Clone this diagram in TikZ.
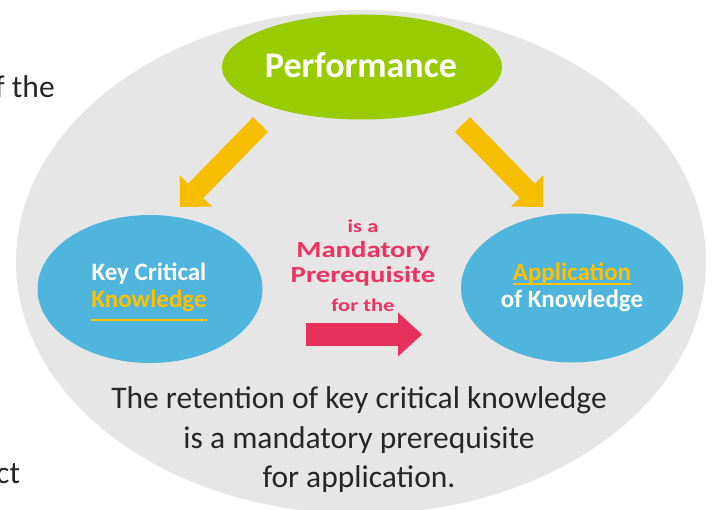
\documentclass[tikz,border=0pt]{standalone}
\usepackage{fontspec}
\setmainfont{Carlito}
\newfontfamily\widefont[FakeStretch=1.25]{Carlito}
\usetikzlibrary{shapes.geometric,arrows.meta}
\definecolor{bggray}{RGB}{230,230,230}
\definecolor{perfgreen}{RGB}{153,204,0}
\definecolor{kblue}{RGB}{80,181,220}
\definecolor{kgold}{RGB}{255,192,0}
\definecolor{arrowgold}{RGB}{247,190,0}
\definecolor{mandpink}{RGB}{236,52,98}
\definecolor{arrowpink}{RGB}{232,48,92}
\definecolor{bodytext}{RGB}{38,38,38}
\tikzset{
  oval/.style={ellipse, inner sep=0pt, outer sep=0pt},
  lbl/.style={inner sep=0pt, anchor=base, text=white, font=\bfseries\fontsize{25}{30}\selectfont},
  pinkbig/.style={inner sep=0pt, anchor=base, text=mandpink, font=\widefont\bfseries\fontsize{23}{26}\selectfont},
  pinksmall/.style={inner sep=0pt, anchor=base, text=mandpink, font=\widefont\bfseries\fontsize{18}{22}\selectfont},
  body/.style={inner sep=0pt, anchor=base, text=bodytext, font=\fontsize{31.5}{38}\selectfont},
  goldarrow/.style={draw=arrowgold, line width=21pt, line cap=butt,
    -{Triangle[width=45pt,length=22.6pt,line width=0pt]}},
  pinkarrow/.style={draw=arrowpink, line width=23pt, line cap=butt,
    -{Triangle[width=44pt,length=24pt,line width=0pt]}},
  uline/.style={draw=kgold, line width=2pt},
}
\begin{document}
\begin{tikzpicture}[x=1pt,y=-1pt]
\useasboundingbox (0,0) rectangle (714,510);
\clip (0,0) rectangle (714,510);
\fill[white] (0,0) rectangle (714,510);

% background oval
\node[oval, fill=bggray, minimum width=690pt, minimum height=504pt] (bg) at (361,262) {};

% stray slide text at left edge
\node[body, anchor=base west] (stray1) at (-5,98) {f the};
\node[body, anchor=base west] (stray2) at (-4,483) {ct};

% main ovals
\node[oval, fill=perfgreen, minimum width=280pt, minimum height=105pt] (perf) at (362,67) {};
\node[oval, fill=kblue, minimum width=225pt, minimum height=148pt] (kck) at (150,289) {};
\node[oval, fill=kblue, minimum width=222pt, minimum height=149pt] (aok) at (572,288) {};

% labels
\node[lbl, font=\bfseries\fontsize{36}{40}\selectfont] (perftxt) at (361,78) {Performance};
\node[lbl] (kc1) at (149,280) {Key Critical};
\node[lbl, text=kgold] (kc2) at (149,308) {Knowledge};
\draw[uline] ([yshift=-12pt]kc2.base west) -- ([yshift=-12pt]kc2.base east);
\node[lbl, text=kgold] (ak1) at (572,280) {Application};
\draw[uline] ([yshift=-4pt]ak1.base west) -- ([yshift=-4pt]ak1.base east);
\node[lbl] (ak2) at (572,308) {of Knowledge};

% yellow arrows
\coordinate (la1) at (260.5,124.5);
\coordinate (la2) at (180,207);
\coordinate (ra1) at (462.5,124.5);
\coordinate (ra2) at (543,207);
\draw[goldarrow] (la1) -- (la2);
\draw[goldarrow] (ra1) -- (ra2);

% middle pink text and arrow
\node[pinksmall] (m1) at (363,233) {is a};
\node[pinkbig] (m2) at (363,258) {Mandatory};
\node[pinkbig] (m3) at (363,283) {Prerequisite};
\node[pinksmall] (m4) at (363,312) {for the};
\coordinate (pa1) at (306,334.5);
\coordinate (pa2) at (422,334.5);
\draw[pinkarrow] (pa1) -- (pa2);

% bottom text
\node[body] (b1) at (359,408) {The retention of key critical knowledge};
\node[body] (b2) at (359,448) {is a mandatory prerequisite};
\node[body] (b3) at (359,487) {for application.};
\end{tikzpicture}
\end{document}
